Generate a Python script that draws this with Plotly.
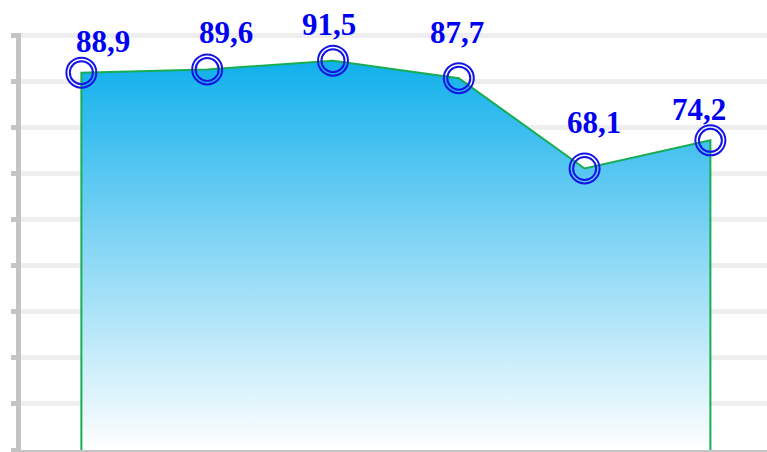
import plotly.graph_objects as go

# values (labels use a decimal comma)
values = [88.9, 89.6, 91.5, 87.7, 68.1, 74.2]
labels = ["88,9", "89,6", "91,5", "87,7", "68,1", "74,2"]
positions = list(range(len(values)))

# visible axis window and grid spacing
y_low, y_high = 7, 97.5
grid_step = 10

# where each value label sits relative to its point (px)
label_dx = [22, 19, -4, -2, 9, -11]
label_dy = [31, 37, 36, 46, 46, 31]

fig = go.Figure()

# closed outline so the area gets green edges on both ends
outline_x = [positions[0]] + positions + [positions[-1]]
outline_y = [0] + values + [0]
fig.add_trace(go.Scatter(
    x=outline_x, y=outline_y,
    mode="lines", fill="toself",
    line=dict(color="#17ad55", width=2),
    fillgradient=dict(
        type="vertical",
        start=y_low, stop=max(values),
        colorscale=[[0, "#ffffff"], [0.5, "#8bd8f5"], [1, "#10b0ec"]],
    ),
    hoverinfo="skip", showlegend=False,
))

# double ring markers
for size in (30, 23):
    fig.add_trace(go.Scatter(
        x=positions, y=values, mode="markers",
        marker=dict(symbol="circle-open", size=size, color="#1414e6",
                    line=dict(color="#1414e6", width=2)),
        cliponaxis=False, showlegend=False,
    ))

for x, y, text, dx, dy in zip(positions, values, labels, label_dx, label_dy):
    fig.add_annotation(
        x=x, y=y, text="<b>" + text + "</b>", showarrow=False,
        xanchor="center", yanchor="middle",
        xshift=dx, yshift=dy,
        font=dict(family="Liberation Serif", size=31, color="#0000f0"),
    )

fig.update_xaxes(
    range=[-0.48, 5.45], showgrid=False, zeroline=False,
    showticklabels=False, showline=True, linecolor="#c4c4c4", linewidth=1.5,
)
fig.update_yaxes(
    range=[y_low, y_high], tick0=y_low, dtick=grid_step,
    showgrid=True, gridcolor="#eeeeee", gridwidth=5,
    zeroline=False, showticklabels=False,
    showline=True, linecolor="#c4c4c4", linewidth=5,
    ticks="outside", ticklen=5, tickwidth=5, tickcolor="#c4c4c4",
)
fig.update_layout(
    width=767, height=452,
    margin=dict(l=21, r=0, t=33, b=2),
    paper_bgcolor="white", plot_bgcolor="white",
    showlegend=False,
)

# drop the browser's default page margin so the figure sits at 0,0
fig.write_html("out.html", config={"displayModeBar": False},
               post_script="document.body.style.margin='0px';")
